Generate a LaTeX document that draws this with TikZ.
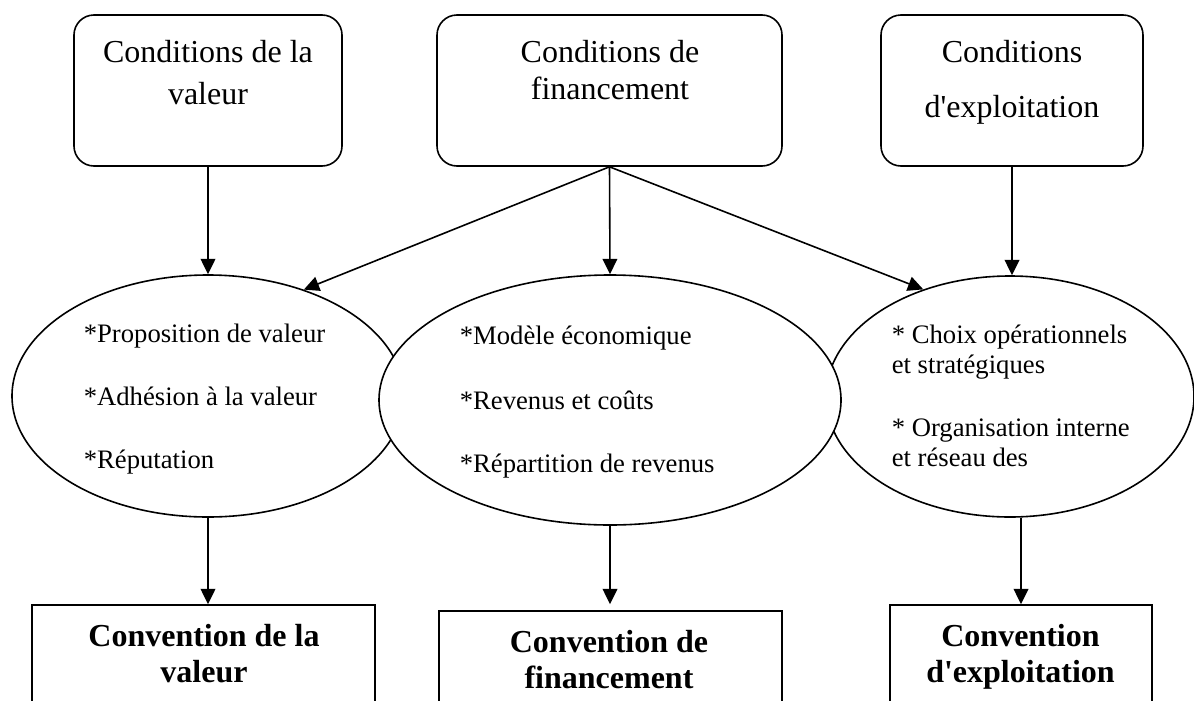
\documentclass[tikz,border=0pt]{standalone}
\usepackage{fontspec}
\setmainfont{Liberation Serif}
\usetikzlibrary{arrows.meta,shapes.geometric}
\begin{document}
\begin{tikzpicture}[x=0.75pt,y=-0.75pt,
  line width=1.2pt,
  cbox/.style={draw, rounded corners=15pt, minimum height=113.25pt, inner sep=0pt},
  ell/.style={draw, ellipse, fill=white, inner sep=0pt},
  vbox/.style={draw, rectangle, inner sep=0pt, minimum height=86.25pt},
  arr/.style={-{Triangle[width=11pt,length=11.5pt]}},
  ttop/.style={font=\fontsize{24}{29}\selectfont, inner sep=0pt, anchor=base},
  tbot/.style={font=\fontsize{24}{29}\selectfont\bfseries, inner sep=0pt, anchor=base},
  tell/.style={font=\fontsize{20}{24}\selectfont, inner sep=0pt, anchor=base west}]
\useasboundingbox (0,0) rectangle (1194,700);
\clip (0,0) rectangle (1194,700);

% top boxes
\node[cbox, minimum width=201pt] (c1) at (208,90.5) {};
\node[cbox, minimum width=258.75pt] (c2) at (609.5,90.5) {};
\node[cbox, minimum width=196.5pt] (c3) at (1012,90.5) {};
\node[ttop] (c1a) at (208,62) {Conditions de la};
\node[ttop] (c1b) at (208,104) {valeur};
\node[ttop] (c2a) at (610,62) {Conditions de};
\node[ttop] (c2b) at (610,99) {financement};
\node[ttop] (c3a) at (1012,62) {Conditions};
\node[ttop] (c3b) at (1012,117) {d\textquotesingle exploitation};

% ellipses
\node[ell, minimum width=294pt, minimum height=181.5pt] (e1) at (208,396) {};
\node[ell, minimum width=276pt, minimum height=180.75pt] (e3) at (1010,396.5) {};
\node[ell, minimum width=346.5pt, minimum height=187.5pt] (e2) at (610,400) {};

\node[tell] (e1a) at (83,342) {*Proposition de valeur};
\node[tell] (e1b) at (83,405) {*Adhésion à la valeur};
\node[tell] (e1c) at (83,468) {*Réputation};
\node[tell] (e2a) at (459,344) {*Modèle économique};
\node[tell] (e2b) at (459,409) {*Revenus et coûts};
\node[tell] (e2c) at (459,472) {*Répartition de revenus};
\node[tell] (e3a) at (891,343) {* Choix opérationnels};
\node[tell] (e3b) at (891,373) {et stratégiques};
\node[tell] (e3c) at (891,436) {* Organisation interne};
\node[tell] (e3d) at (891,466) {et réseau des};

% bottom boxes
\node[vbox, minimum width=257.25pt] (v1) at (203.5,662.5) {};
\node[vbox, minimum width=257.25pt] (v2) at (610.5,668.5) {};
\node[vbox, minimum width=196.5pt] (v3) at (1021,662.5) {};
\node[tbot] (v1a) at (204,646) {Convention de la};
\node[tbot] (v1b) at (204,682) {valeur};
\node[tbot] (v2a) at (609,652) {Convention de};
\node[tbot] (v2b) at (609,688) {financement};
\node[tbot] (v3a) at (1020.5,646) {Convention};
\node[tbot] (v3b) at (1020.5,682) {d\textquotesingle exploitation};

% arrows top
\draw[arr] (c1.south) -- (e1.north);
\draw[arr] (c2.south) -- (e2.north);
\draw[arr] (c2.south) -- (e1.48);
\draw[arr] (c2.south) -- (e3.129);
\draw[arr] (c3.south) -- (c3.south |- e3.north);

% arrows bottom
\draw[arr] (e1.south) -- (e1.south |- v1.north);
\draw[arr] (e2.south) -- ([yshift=4.5pt]e2.south |- v2.north);
\draw[arr] (e3.south -| v3.north) -- (v3.north);
\end{tikzpicture}
\end{document}
